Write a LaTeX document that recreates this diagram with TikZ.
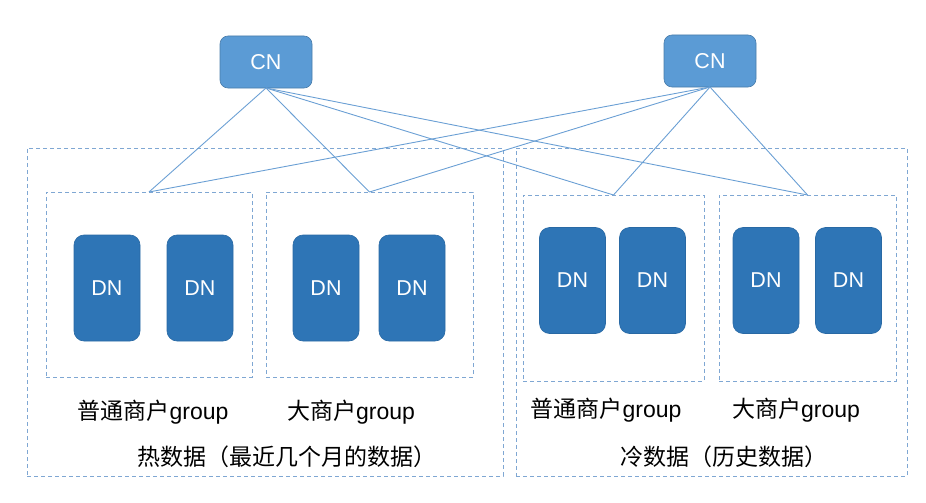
\documentclass[tikz,border=0pt]{standalone}
\usepackage{fontspec}
\setmainfont{Liberation Sans}
\newfontfamily\cjk{Noto Sans CJK SC}
\definecolor{cnblue}{HTML}{5B9BD5}
\definecolor{dnblue}{HTML}{2E75B6}
\definecolor{lineblue}{HTML}{6A9FD4}
\definecolor{dashblue}{HTML}{7FA7D3}
\tikzset{
  cnbox/.style={draw=cnblue!80!black, fill=cnblue, rounded corners=8pt, line width=0.6pt,
    minimum width=92pt, minimum height=52pt, text=white, font=\fontsize{21.5}{25}\selectfont},
  dnbox/.style={draw=dnblue!90!black, fill=dnblue, rounded corners=10pt, line width=0.6pt,
    minimum width=66pt, minimum height=106pt, text=white, font=\fontsize{21.5}{25}\selectfont},
  groupbox/.style={draw=dashblue, dash pattern=on 4pt off 3pt, line width=1pt},
  label/.style={text=black, font=\fontsize{23}{27}\selectfont},
  link/.style={draw=lineblue, line width=0.9pt}
}
\begin{document}
\begin{tikzpicture}[x=1pt,y=-1pt,every node/.style={outer sep=0pt,inner sep=0pt}]
  \useasboundingbox (0,0) rectangle (926,503);

    % --------------------------------------------------------- %
    % ------------- data partitions (hot / cold)
    % --------------------------------------------------------- %
    \node[groupbox, minimum width=476pt, minimum height=328pt] (hot) at (265,312) {};
    \node[groupbox, minimum width=391pt, minimum height=328pt] (cold) at (711.5,312) {};
    \node[label] (hotlabel) at (287,457) {\cjk 热数据（最近几个月的数据）};
    \node[label] (coldlabel) at (724,457) {\cjk 冷数据（历史数据）};

    % --------------------------------------------------------- %
    % ------------ groups
    % --------------------------------------------------------- %
    % --- hot, normal merchants
    \node[groupbox, minimum width=206pt, minimum height=185pt] (g1) at (149,284.5) {};
    \node[dnbox] (dn11) at (107,288) {DN};
    \node[dnbox] (dn12) at (200,288) {DN};
    \node[label] (g1label) at (153,412) {{\cjk 普通商户}group};
    % --- hot, big merchants
    \node[groupbox, minimum width=207pt, minimum height=185pt] (g2) at (369.5,284.5) {};
    \node[dnbox] (dn21) at (326,288) {DN};
    \node[dnbox] (dn22) at (412,288) {DN};
    \node[label] (g2label) at (351,412) {{\cjk 大商户}group};
    % --- cold, normal merchants
    \node[groupbox, minimum width=181pt, minimum height=186pt] (g3) at (613.5,288) {};
    \node[dnbox] (dn31) at (572.5,280.5) {DN};
    \node[dnbox] (dn32) at (652.5,280.5) {DN};
    \node[label] (g3label) at (606,410) {{\cjk 普通商户}group};
    % --- cold, big merchants
    \node[groupbox, minimum width=177pt, minimum height=186pt] (g4) at (807.5,288) {};
    \node[dnbox] (dn41) at (766,280.5) {DN};
    \node[dnbox] (dn42) at (848.5,280.5) {DN};
    \node[label] (g4label) at (796,410) {{\cjk 大商户}group};

    % --------------------------------------------------------- %
    % ------------ CN nodes
    % --------------------------------------------------------- %
    \node[cnbox] (cn1) at (266,62) {CN};
    \node[cnbox] (cn2) at (710,61) {CN};
    \draw[link] (cn1.south) -- (g1.north);
    \draw[link] (cn1.south) -- (g2.north);
    \draw[link] (cn1.south) -- (g3.north);
    \draw[link] (cn1.south) -- (g4.north);
    \draw[link] (cn2.south) -- (g1.north);
    \draw[link] (cn2.south) -- (g2.north);
    \draw[link] (cn2.south) -- (g3.north);
    \draw[link] (cn2.south) -- (g4.north);

  \end{tikzpicture}
\end{document}
